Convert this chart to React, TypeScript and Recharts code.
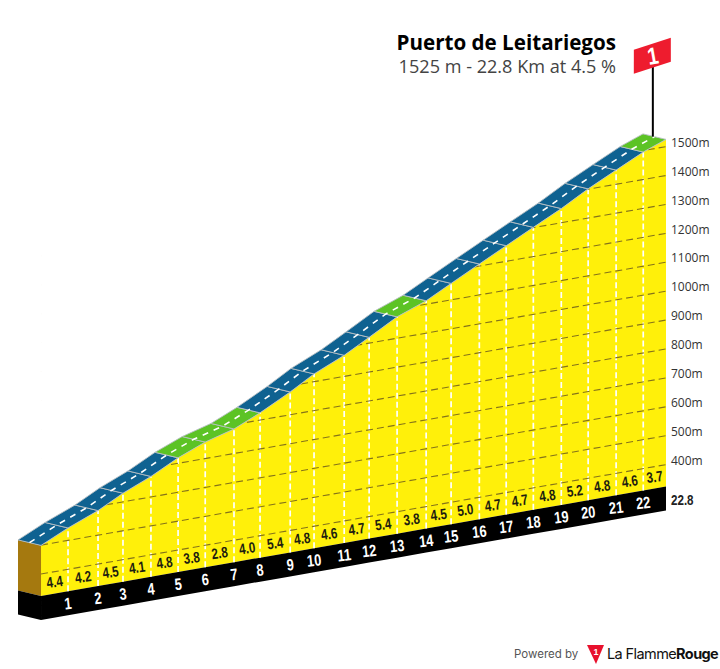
import React from 'react';
import { ComposedChart, Area, Line, Scatter, XAxis, YAxis } from 'recharts';

// ---- values ----
const profileKm = [0, 0.985, 2.08, 2.99, 4.01, 5.0, 5.99, 7.04, 7.99, 9.09, 9.96, 11.06, 11.97, 12.99, 14.05, 14.96, 15.99, 16.97, 17.96, 18.98, 19.96, 20.98, 21.97, 22.8];
const elevations = [499, 543, 585, 630, 671, 719, 757, 785, 825, 879, 927, 973, 1020, 1074, 1112, 1157, 1207, 1254, 1301, 1349, 1401, 1449, 1495, 1525];
const gradients = [4.4, 4.2, 4.5, 4.1, 4.8, 3.8, 2.8, 4.0, 5.4, 4.8, 4.6, 4.7, 5.4, 3.8, 4.5, 5.0, 4.7, 4.7, 4.8, 5.2, 4.8, 4.6, 3.7];
const kmLabels = ['1','2','3','4','5','6','7','8','9','10','11','12','13','14','15','16','17','18','19','20','21','22'];
const elevationLevels = [400, 500, 600, 700, 800, 900, 1000, 1100, 1200, 1300, 1400, 1500];
const baseElevation = 324;
const bandDepth = 83;
const flagTopElevation = 1767;
const totalKm = 22.8;

// oblique projection of the 3D look
const SKEW = 16.6;      // metres of apparent rise per km
const BACK_KM = 0.84;   // road depth along x
const BACK_M = 19;      // road depth along y
const X_DOMAIN = [-BACK_KM, totalKm];
const Y_DOMAIN = [71.5, 2385.6];
const project = (km: number, e: number) => e + SKEW * km;

const YELLOW = '#fff00a';
const BLUE = '#0f6291';
const GREEN = '#5cc325';
const BROWN = '#a5790f';

const nodes = profileKm.map((km, i) => ({ km, e: elevations[i] }));

const yellowData = nodes.map((n) => ({ x: n.km, y: [project(n.km, baseElevation), project(n.km, n.e)] }));
const bandData = nodes.map((n) => ({ x: n.km, y: [project(n.km, baseElevation - bandDepth), project(n.km, baseElevation)] }));
const skyData = nodes.map((n) => ({ x: n.km, y: [project(n.km, n.e), Y_DOMAIN[1]] }));

const gridData = elevationLevels.map((lv) => [
  { x: 0, y: project(0, lv) },
  { x: totalKm, y: project(totalKm, lv) },
]);
const kmLineData = nodes.slice(1, -1).map((n) => [
  { x: n.km, y: project(n.km, baseElevation) },
  { x: n.km, y: project(n.km, n.e) },
]);
const centreData = nodes.map((n) => ({ x: n.km - BACK_KM / 2, y: project(n.km, n.e) + BACK_M / 2 }));

const poly = (corners: number[][]) => corners.map((c, i) => ({ i, x: c[0], y: c[1] }));
const ribbonData = nodes.slice(0, -1).map((n, i) => {
  const m = nodes[i + 1];
  return {
    fill: gradients[i] <= 4.0 ? GREEN : BLUE,
    pts: poly([
      [n.km, project(n.km, n.e)],
      [m.km, project(m.km, m.e)],
      [m.km - BACK_KM, project(m.km, m.e) + BACK_M],
      [n.km - BACK_KM, project(n.km, n.e) + BACK_M],
    ]),
  };
});
const brownFace = poly([
  [0, project(0, elevations[0])],
  [0, project(0, baseElevation)],
  [-BACK_KM, project(0, baseElevation) + BACK_M],
  [-BACK_KM, project(0, elevations[0]) + BACK_M],
]);
const blackFace = poly([
  [0, project(0, baseElevation)],
  [0, project(0, baseElevation - bandDepth)],
  [-BACK_KM, project(0, baseElevation - bandDepth) + BACK_M],
  [-BACK_KM, project(0, baseElevation) + BACK_M],
]);

const gradientLabelData = gradients.map((g, i) => {
  const km = (profileKm[i] + profileKm[i + 1]) / 2;
  return { x: km, y: project(km, baseElevation), text: g.toFixed(1) };
});
const kmLabelData = kmLabels.map((t, i) => ({ x: profileKm[i + 1], y: project(profileKm[i + 1], baseElevation), text: t }));
const levelLabelData = elevationLevels.map((lv) => ({ x: totalKm, y: project(totalKm, lv), text: `${lv}m` }));
const endLabelData = [{ x: totalKm, y: project(totalKm, baseElevation), text: '22.8' }];
const poleKm = totalKm - BACK_KM / 2 - 0.06;
const poleData = [
  { x: poleKm, y: project(totalKm, 1525) + BACK_M / 2 },
  { x: poleKm, y: project(totalKm, flagTopElevation) + BACK_M / 2 },
];
const flagData = [{ x: poleKm, y: project(totalKm, flagTopElevation) + BACK_M / 2, text: '1' }];

const SANS = '"Liberation Sans", sans-serif';

// Shape that gathers the library-scaled corners, then draws the polygon on the last one
const polygonShape = (n: number, fill: string, stroke: string) => {
  const got: string[] = [];
  return (p: any) => {
    const i = p.payload?.i ?? p.i;
    got[i] = `${p.cx},${p.cy}`;
    if (i !== n - 1) return <g />;
    return <polygon points={got.join(' ')} fill={fill} stroke={stroke} strokeWidth={stroke === 'none' ? 0 : 0.9} strokeLinejoin="round" />;
  };
};

const narrowTransform = (x: number, y: number, rot: number, sx: number) =>
  `translate(${x} ${y}) rotate(${rot}) scale(${sx} 1)`;

const gradientText = (p: any) => (
  <text dy="0.36em" textAnchor="middle" fontFamily={SANS} fontWeight={700} fontSize={15}
    fill="#1d1d10" transform={narrowTransform(p.cx, p.cy - 12, -8, 0.78)}>{p.payload?.text ?? p.text}</text>
);
const kmText = (p: any) => (
  <text dy="0.36em" textAnchor="middle" fontFamily={SANS} fontWeight={700} fontSize={16.5}
    fill="#ffffff" transform={narrowTransform(p.cx, p.cy + 12, -6, 0.78)}>{p.payload?.text ?? p.text}</text>
);
const levelText = (p: any) => (
  <text x={p.cx + 5} y={p.cy - 4} dy="0.35em" fontFamily='"Open Sans", sans-serif' fontSize={12} fill="#333333">{p.payload?.text ?? p.text}</text>
);
const endText = (p: any) => (
  <text dy="0.36em" fontFamily={SANS} fontWeight={700} fontSize={14.5} fill="#222222"
    transform={narrowTransform(p.cx + 5, p.cy + 13, 0, 0.8)}>{p.payload?.text ?? p.text}</text>
);
const flagShape = (p: any) => (
  <g>
    <polygon points={`${p.cx - 19},${p.cy - 17} ${p.cx + 18},${p.cy - 29} ${p.cx + 18},${p.cy - 5} ${p.cx - 19},${p.cy + 7}`} fill="#ee1c2e" />
    <text dy="0.36em" textAnchor="middle" fontFamily={SANS} fontWeight={700} fontSize={24}
      fill="#ffffff" transform={narrowTransform(p.cx, p.cy - 11, -10, 0.8)}>{p.payload?.text ?? p.text}</text>
  </g>
);

export default function App() {
  return (
    <div style={{ position: 'absolute', left: 0, top: 0, width: 720, height: 669, background: '#fff', overflow: 'hidden' }}>
      <ComposedChart width={720} height={669} margin={{ top: 0, right: 54, bottom: 0, left: 18 }}>
        <XAxis type="number" dataKey="x" domain={X_DOMAIN} hide />
        <YAxis type="number" domain={Y_DOMAIN} hide />

        <Area {...({ zIndex: 10 } as any)} data={yellowData} dataKey="y" type="linear" fill={YELLOW} fillOpacity={1} stroke="none" isAnimationActive={false} dot={false} activeDot={false} />
        <Area {...({ zIndex: 11 } as any)} data={bandData} dataKey="y" type="linear" fill="#000000" fillOpacity={1} stroke="none" isAnimationActive={false} dot={false} activeDot={false} />

        {kmLineData.map((d, i) => (
          <Line {...({ zIndex: 12 } as any)} key={`k${i}`} data={d} dataKey="y" type="linear" stroke="#ffffff" strokeWidth={1.7} strokeDasharray="6 3" dot={false} activeDot={false} isAnimationActive={false} />
        ))}
        {gridData.map((d, i) => (
          <Line {...({ zIndex: 13 } as any)} key={`g${i}`} data={d} dataKey="y" type="linear" stroke="#85731a" strokeWidth={1.1} strokeDasharray="7 4" dot={false} activeDot={false} isAnimationActive={false} />
        ))}
        <Area {...({ zIndex: 14 } as any)} data={skyData} dataKey="y" type="linear" fill="#ffffff" fillOpacity={1} stroke="none" isAnimationActive={false} dot={false} activeDot={false} />

        <Scatter {...({ zIndex: 15 } as any)} data={brownFace} dataKey="y" shape={polygonShape(4, BROWN, 'none')} isAnimationActive={false} />
        <Scatter {...({ zIndex: 15 } as any)} data={blackFace} dataKey="y" shape={polygonShape(4, '#000000', 'none')} isAnimationActive={false} />
        {ribbonData.map((r, i) => (
          <Scatter {...({ zIndex: 16 } as any)} key={`r${i}`} data={r.pts} dataKey="y" shape={polygonShape(4, r.fill, '#b8c0c4')} isAnimationActive={false} />
        ))}
        <Line {...({ zIndex: 17 } as any)} data={centreData} dataKey="y" type="linear" stroke="#ffffff" strokeWidth={1.6} strokeDasharray="6 6" dot={false} activeDot={false} isAnimationActive={false} />

        <Line {...({ zIndex: 18 } as any)} data={poleData} dataKey="y" type="linear" stroke="#000000" strokeWidth={2} dot={false} activeDot={false} isAnimationActive={false} />
        <Scatter {...({ zIndex: 19 } as any)} data={flagData} dataKey="y" shape={flagShape} isAnimationActive={false} />
        <Scatter {...({ zIndex: 20 } as any)} data={gradientLabelData} dataKey="y" shape={gradientText} isAnimationActive={false} />
        <Scatter {...({ zIndex: 20 } as any)} data={kmLabelData} dataKey="y" shape={kmText} isAnimationActive={false} />
        <Scatter {...({ zIndex: 20 } as any)} data={levelLabelData} dataKey="y" shape={levelText} isAnimationActive={false} />
        <Scatter {...({ zIndex: 20 } as any)} data={endLabelData} dataKey="y" shape={endText} isAnimationActive={false} />
      </ComposedChart>

      <div style={{ position: 'absolute', right: 104, top: 29, fontFamily: '"Open Sans", sans-serif', fontWeight: 700, fontSize: 20.6, lineHeight: '27px', color: '#000', whiteSpace: 'nowrap' }}>Puerto de Leitariegos</div>
      <div style={{ position: 'absolute', right: 104, top: 54, fontFamily: '"Open Sans", sans-serif', fontSize: 18.1, lineHeight: '24px', color: '#444', whiteSpace: 'nowrap' }}>1525 m - 22.8 Km at 4.5 %</div>

      <div style={{ position: 'absolute', left: 514, top: 646, fontFamily: 'Inter, sans-serif', fontSize: 11.5, lineHeight: '16px', color: '#555', whiteSpace: 'nowrap' }}>Powered by</div>
      <svg style={{ position: 'absolute', left: 586, top: 644 }} width={20} height={22}>
        <polygon points="1,1 18,1 10,20" fill="#e8112d" />
        <text x={10} y={11} textAnchor="middle" fontFamily='"Liberation Sans", sans-serif' fontWeight={700} fontSize={9} fill="#fff">1</text>
      </svg>
      <div style={{ position: 'absolute', left: 607, top: 644, fontFamily: 'Inter, sans-serif', fontSize: 14.5, lineHeight: '20px', letterSpacing: '-0.6px', color: '#111', whiteSpace: 'nowrap' }}>La Flamme<b>Rouge</b></div>
    </div>
  );
}
